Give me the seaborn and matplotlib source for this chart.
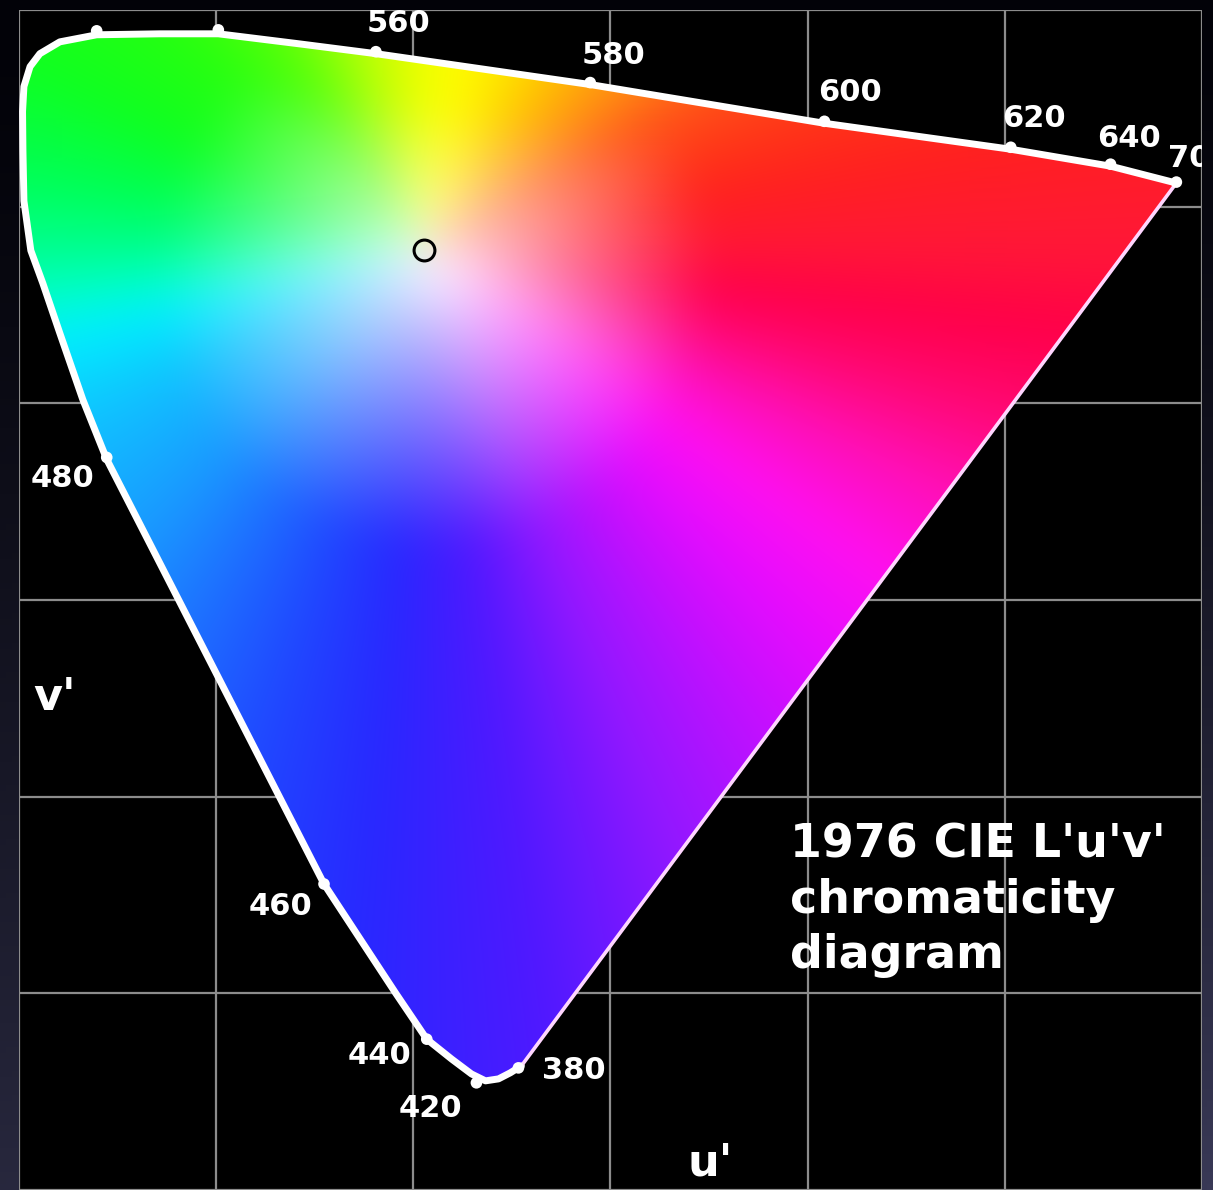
import matplotlib

matplotlib.use("Agg")
import matplotlib.pyplot as plt
import numpy as np
import pandas as pd
import seaborn as sns
from matplotlib.colors import to_rgb
from matplotlib.patches import Polygon


# spectral locus outline, going 700 nm -> 520 nm -> 380 nm
LOCUS_U = [0.5870, 0.5536, 0.5030, 0.4085, 0.2897, 0.1810, 0.1421, 0.1011, 0.0713,
           0.0394, 0.0207, 0.0106, 0.0056, 0.0025, 0.0018, 0.0020, 0.0025, 0.0060,
           0.0121, 0.0207, 0.0324, 0.0445, 0.1547, 0.1911, 0.2068, 0.2194, 0.2295,
           0.2366, 0.2432, 0.2492, 0.2548]
LOCUS_V = [0.5120, 0.5206, 0.5292, 0.5424, 0.5621, 0.5778, 0.5828, 0.5879, 0.5879,
           0.5874, 0.5838, 0.5778, 0.5712, 0.5611, 0.5484, 0.5282, 0.5029, 0.4777,
           0.4610, 0.4357, 0.4018, 0.3715, 0.1556, 0.1000, 0.0767, 0.0666, 0.0590,
           0.0555, 0.0565, 0.0596, 0.0631]

# wavelength marks (nm) sitting on the locus
MARK_NM = [700, 640, 620, 600, 580, 560, 540, 520, 480, 460, 440, 420, 380]
MARK_U = [0.5870, 0.5536, 0.5030, 0.4085, 0.2897, 0.1810, 0.1011, 0.0394,
          0.0445, 0.1547, 0.2068, 0.2320, 0.2533]
MARK_V = [0.5125, 0.5216, 0.5302, 0.5434, 0.5631, 0.5788, 0.5899, 0.5894,
          0.3725, 0.1556, 0.0767, 0.0545, 0.0621]
LABELLED_NM = [700, 640, 620, 600, 580, 560, 480, 460, 440, 420, 380]

# white point (open circle)
WHITE_U = 0.2053
WHITE_V = 0.4782

TITLE_LINES = ["1976 CIE L'u'v'", "chromaticity", "diagram"]
X_LABEL = "u'"
Y_LABEL = "v'"

# ---- layout / style -------------------------------------------------------
W_PX, H_PX = 1213, 1190
PX_PER_UNIT = 1978.0

# label offsets from the mark, in pixels (baseline anchored)
LABEL_OFFSET = {
    560: (23, 20, "center"), 580: (23, 19, "center"), 600: (26, 20, "center"),
    620: (23, 20, "center"), 640: (18, 17, "center"), 700: (-8, 15, "left"),
    480: (-44, -30, "center"), 460: (-44, -31, "center"), 440: (-47, -25, "center"),
    420: (-46, -34, "center"), 380: (55, -11, "center"),
}

# hue around the white point (angle in degrees -> colour)
HUE_ANCHORS = [
    (0, "#ff1838"), (10, "#ff2020"), (18, "#ff3418"), (29, "#ff5418"),
    (39, "#ff8c14"), (55, "#ffc400"), (70, "#ffee00"), (82, "#ffff00"),
    (95, "#e4ff00"), (110, "#a8ff08"), (122, "#60ff08"), (138, "#28ff10"),
    (155, "#10ff20"), (170, "#00ff58"), (180, "#00ff90"), (187, "#00ffc8"),
    (193, "#00f0ff"), (206, "#10c4ff"), (226, "#1a98ff"), (240, "#1e6cff"),
    (252, "#2048ff"), (265, "#2828ff"), (279, "#5018ff"), (292, "#9018ff"),
    (305, "#c210ff"), (315, "#e60cff"), (325, "#ff10f0"), (335, "#ff10b8"),
    (345, "#ff0870"), (353, "#ff0048"),
]
GLOW_U, GLOW_V = 0.2103, 0.4682   # centre of the pale patch
GLOW_R = 0.14
BLUR = 31

sns.set_theme(style="dark", rc={"axes.facecolor": "black", "figure.facecolor": "black"})
plt.rcParams["font.family"] = ["DejaVu Sans"]


def u_of_px(px):
    return (px - 19) / PX_PER_UNIT


def v_of_px(py):
    return 0.1 + (997 - py) / PX_PER_UNIT


def box_blur(a, k, axis):
    pad = k // 2
    widths = [(pad, pad) if i == axis else (0, 0) for i in range(a.ndim)]
    a = np.pad(a, widths, mode="edge")
    c = np.cumsum(a, axis=axis)
    c = np.insert(c, 0, 0, axis=axis)
    n = a.shape[axis] - 2 * pad
    return (np.take(c, np.arange(k, k + n), axis=axis)
            - np.take(c, np.arange(0, n), axis=axis)) / k


fig = plt.figure(figsize=(W_PX / 100, H_PX / 100), dpi=100)

# slide-like backdrop round the plot
bg = fig.add_axes([0, 0, 1, 1], zorder=-5)
yy, xx = np.mgrid[0:1:200j, 0:1:200j]
top = np.array(to_rgb("#020208"))
bot = np.array(to_rgb("#34344f"))
grad = top + (bot - top) * (yy[..., None] ** 1.3) * (0.75 + 0.35 * xx[..., None])
bg.imshow(np.clip(grad, 0, 1)[::-1], extent=(0, 1, 0, 1), aspect="auto", origin="lower")
bg.set_axis_off()

left_px, right_px, top_px = 18.5, 1202, 10
ax = fig.add_axes([left_px / W_PX, 0, (right_px - left_px) / W_PX, (H_PX - top_px) / H_PX])
x0, x1 = u_of_px(left_px), u_of_px(right_px)
y0, y1 = v_of_px(H_PX), v_of_px(top_px)
ax.set_xlim(x0, x1)
ax.set_ylim(y0, y1)
ax.set_facecolor("black")
ax.set_xticks(np.arange(0, 0.61, 0.1))
ax.set_yticks(np.arange(0, 0.61, 0.1))
ax.tick_params(length=0, labelbottom=False, labelleft=False)
ax.grid(True, color="#8c8c8c", lw=1.6)
ax.set_axisbelow(True)
for sp in ax.spines.values():
    sp.set_visible(False)

# ---- colour fill of the gamut ---------------------------------------------
lu = np.array(LOCUS_U)
lv = np.array(LOCUS_V)
cu = np.append(lu, lu[0])
cv = np.append(lv, lv[0])
seg_u = np.concatenate([np.linspace(cu[i], cu[i + 1], 60) for i in range(len(cu) - 1)])
seg_v = np.concatenate([np.linspace(cv[i], cv[i + 1], 60) for i in range(len(cv) - 1)])
b_t = np.degrees(np.arctan2(seg_v - GLOW_V, seg_u - GLOW_U)) % 360
b_r = np.hypot(seg_u - GLOW_U, seg_v - GLOW_V)
order = np.argsort(b_t)

gu = np.linspace(x0, x1, 900)
gv = np.linspace(y0, y1, 900)
U, V = np.meshgrid(gu, gv)
theta = np.degrees(np.arctan2(V - WHITE_V, U - WHITE_U)) % 360
phi = np.degrees(np.arctan2(V - GLOW_V, U - GLOW_U)) % 360
r = np.hypot(U - GLOW_U, V - GLOW_V)
R = np.interp(phi, b_t[order], b_r[order], period=360)
sat = np.clip(r / np.minimum(GLOW_R, 0.8 * R), 0, 1) ** 0.8

ang = np.array([a for a, _ in HUE_ANCHORS])
cols = np.array([to_rgb(c) for _, c in HUE_ANCHORS])
hue = np.stack([np.interp(theta, ang, cols[:, k], period=360) for k in range(3)], axis=-1)
rgb = 1 - sat[..., None] * (1 - hue)
for _ in range(3):
    rgb = box_blur(rgb, BLUR, 0)
    rgb = box_blur(rgb, BLUR, 1)
rgb = np.clip(rgb, 0, 1)

gamut = Polygon(np.column_stack([lu, lv]), closed=True, facecolor="none", edgecolor="none")
ax.add_patch(gamut)
im = ax.imshow(rgb, extent=(x0, x1, y0, y1), origin="lower", aspect="auto",
               interpolation="bilinear", zorder=2)
im.set_clip_path(gamut)

# ---- outline, marks, white point ------------------------------------------
locus = pd.DataFrame({"u": LOCUS_U, "v": LOCUS_V})
sns.lineplot(data=locus, x="u", y="v", sort=False, estimator=None, color="white",
             lw=5, ax=ax, zorder=4, solid_capstyle="round", solid_joinstyle="round")
purple = pd.DataFrame({"u": [LOCUS_U[-1], LOCUS_U[0]], "v": [LOCUS_V[-1], LOCUS_V[0]]})
sns.lineplot(data=purple, x="u", y="v", sort=False, estimator=None, color="#ffd6ff",
             lw=2.6, ax=ax, zorder=4)

marks = pd.DataFrame({"nm": MARK_NM, "u": MARK_U, "v": MARK_V})
sns.scatterplot(data=marks, x="u", y="v", color="white", s=70, edgecolor="none",
                ax=ax, zorder=5)

ax.plot([WHITE_U], [WHITE_V], marker="o", ms=15, mfc="none", mec="black", mew=2.2,
        zorder=6)

for nm, u, v in zip(MARK_NM, MARK_U, MARK_V):
    if nm not in LABELLED_NM:
        continue
    dx, dy, ha = LABEL_OFFSET[nm]
    ax.annotate(str(nm), (u, v), xytext=(dx, dy), textcoords="offset pixels",
                ha=ha, va="baseline", fontsize=22, fontweight="bold", color="white",
                zorder=7, annotation_clip=False, clip_on=(nm == 700))

ax.set_xlabel("")
ax.set_ylabel("")
ax.text(u_of_px(712), v_of_px(1180), X_LABEL, ha="center", va="baseline",
        fontsize=32, fontweight="bold", color="white", zorder=7)
ax.text(u_of_px(33), v_of_px(712), Y_LABEL, ha="left", va="baseline",
        fontsize=32, fontweight="bold", color="white", zorder=7)

for line, base_px in zip(TITLE_LINES, [860, 916, 972]):
    ax.text(u_of_px(792), v_of_px(base_px), line, ha="left", va="baseline",
            fontsize=33, fontweight="bold", color="white", zorder=7)

fig.savefig("out.png", dpi=100)
